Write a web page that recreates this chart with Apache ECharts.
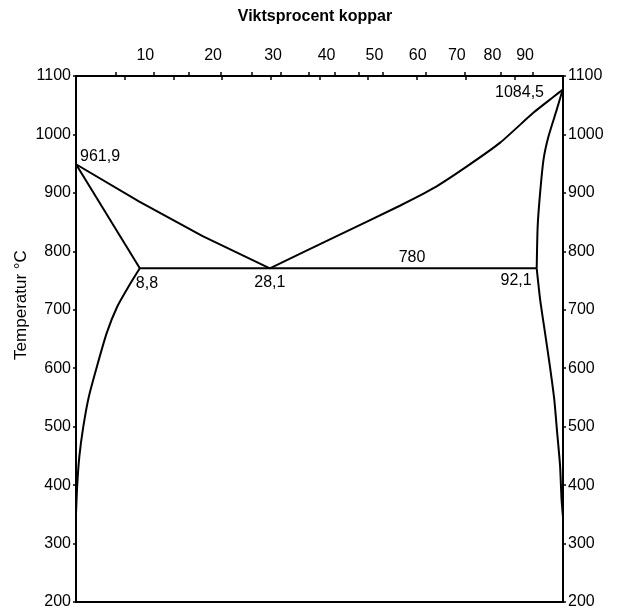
<!DOCTYPE html>
<html><head><meta charset="utf-8">
<script src="https://cdn.jsdelivr.net/npm/echarts@6/dist/echarts.min.js"></script>
<style>html,body{margin:0;padding:0;background:#fff}#c{width:621px;height:610px}</style>
</head><body><div id="c"></div>
<script>
// Axis ranges (x = atom-% Cu, y = temperature °C)
const xRange = [0, 100];
const tempRange = [200, 1100];
const tempStep = 100;

// Phase boundaries: [atom-% Cu, °C]
const liquidusAg = [[0,949],[13,885],[26,826],[39.8,771]];
const solidusAg  = [[0,949],[13.1,771]];
const solvusAg   = [[13.1,771],[10.8,740],[8.5,706],[6.3,660],[4.2,600],[2.6,550],[1.5,500],[0.7,450],[0.25,400],[0,350]];
const eutectic   = [[13.1,771],[94.6,771]];
const liquidusCu = [[39.8,771],[53,824],[66.5,878],[73.4,908],[80.2,945],[87.1,986],[93.9,1037],[98,1064],[100,1077]];
const solidusCu  = [[100,1077],[99.7,1070],[98.7,1042],[97,996],[96,957],[95.3,900],[94.8,843],[94.6,771]];
const solvusCu   = [[94.6,771],[95.3,718],[96.3,661],[97.3,604],[98.2,547],[98.8,490],[99.4,433],[99.7,376],[100,345]];

// Point annotations
const noteText = ['961,9','1084,5','8,8','28,1','780','92,1'];
const noteX    = [0, 100, 13.1, 39.8, 69, 94.6];
const noteT    = [949, 1077, 771, 771, 771, 771];

// Top axis: weight-% copper
const topTickWt  = [5,10,15,20,25,30,35,40,45,50,60,70,80,90];
const topLabelWt = [10,20,30,40,50,60,70,80,90];
const M_CU = 63.546, M_AG = 107.868;
function wtToAt(w){ const a = w / M_CU, b = (100 - w) / M_AG; return 100 * a / (a + b); }
const topTickPos  = topTickWt.map(wtToAt);
const topLabelPos = topLabelWt.map(wtToAt);

const FONT = '"Liberation Sans", Arial, sans-serif';
const INK = '#000';
const chart = echarts.init(document.getElementById('c'), null, {renderer:'canvas'});

const lineStyle = {color:INK, width:2};
function curve(data, smooth){
  return {type:'line', data, xAxisIndex:0, yAxisIndex:0, symbol:'none', smooth: smooth || false,
          lineStyle, silent:true, animation:false, z:3};
}

const noteStyle = [
  {align:'left',  verticalAlign:'middle', position:[4,-8]},
  {align:'right', verticalAlign:'middle', position:[-19,3]},
  {align:'left',  verticalAlign:'middle', position:[-4,15]},
  {align:'center',verticalAlign:'middle', position:[0,14]},
  {align:'center',verticalAlign:'middle', position:[0,-11]},
  {align:'right', verticalAlign:'middle', position:[-5,12]}
];

const yLabel = {margin:5, color:INK, fontSize:16, fontFamily:FONT, formatter:function(v){return String(v);}};

const option = {
  backgroundColor:'#fff',
  animation:false,
  grid:{left:76, right:58, top:76, bottom:7},
  graphic:[
    {type:'text', x:315, y:17, style:{text:'Viktsprocent koppar', textAlign:'center', textVerticalAlign:'middle', font:'bold 16px '+FONT, fill:INK}},
    {type:'text', rotation:Math.PI/2, x:21, y:305, style:{text:'Temperatur °C', textAlign:'center', textVerticalAlign:'middle', font:'17px '+FONT, fill:INK}}
  ],
  xAxis:[
    {type:'value', position:'bottom', min:xRange[0], max:xRange[1],
     axisLine:{show:true, onZero:false, lineStyle:{color:INK, width:2}},
     axisTick:{show:false}, axisLabel:{show:false}, splitLine:{show:false}},
    {type:'value', position:'top', min:xRange[0], max:xRange[1], interval:10,
     axisLine:{show:true, onZero:false, lineStyle:{color:INK, width:2}},
     axisTick:{show:true, inside:true, length:4, lineStyle:{color:INK, width:1.5}},
     axisLabel:{show:false}, splitLine:{show:false}},
    {type:'value', position:'top', min:xRange[0], max:xRange[1],
     axisLine:{show:false, onZero:false},
     axisTick:{show:true, inside:false, length:4, customValues:topTickPos, lineStyle:{color:INK, width:1.5}},
     axisLabel:{show:true, customValues:topLabelPos, margin:12, color:INK, fontSize:16, fontFamily:FONT,
       padding:[0,16,0,0],
       formatter:function(v){ let best=0, bd=1e9; topLabelPos.forEach((p,i)=>{const d=Math.abs(p-v); if(d<bd){bd=d;best=i;}}); return String(topLabelWt[best]); }},
     splitLine:{show:false}}
  ],
  yAxis:[
    {type:'value', position:'left', min:tempRange[0], max:tempRange[1], interval:tempStep,
     axisLine:{show:true, onZero:false, lineStyle:{color:INK, width:2}},
     axisTick:{show:true, inside:false, length:3, lineStyle:{color:INK, width:1.5}},
     axisLabel:yLabel, splitLine:{show:false}},
    {type:'value', position:'right', min:tempRange[0], max:tempRange[1], interval:tempStep,
     axisLine:{show:true, onZero:false, lineStyle:{color:INK, width:2}},
     axisTick:{show:true, inside:false, length:3, lineStyle:{color:INK, width:1.5}},
     axisLabel:yLabel, splitLine:{show:false}}
  ],
  series:[
    curve(liquidusAg, false),
    curve(solidusAg, false),
    curve(solvusAg, 0.2),
    curve(eutectic, false),
    curve(liquidusCu, 0.2),
    curve(solidusCu, 0.2),
    curve(solvusCu, 0.2),
    {type:'scatter', xAxisIndex:0, yAxisIndex:0, symbolSize:0, silent:true, z:5,
     itemStyle:{opacity:1},
     data: noteText.map((t,i)=>({value:[noteX[i], noteT[i]],
        label:{show:true, formatter:t, color:INK, opacity:1, fontSize:16, fontFamily:FONT,
               position:noteStyle[i].position, align:noteStyle[i].align, verticalAlign:noteStyle[i].verticalAlign}}))}
  ]
};
chart.setOption(option);
</script></body></html>
